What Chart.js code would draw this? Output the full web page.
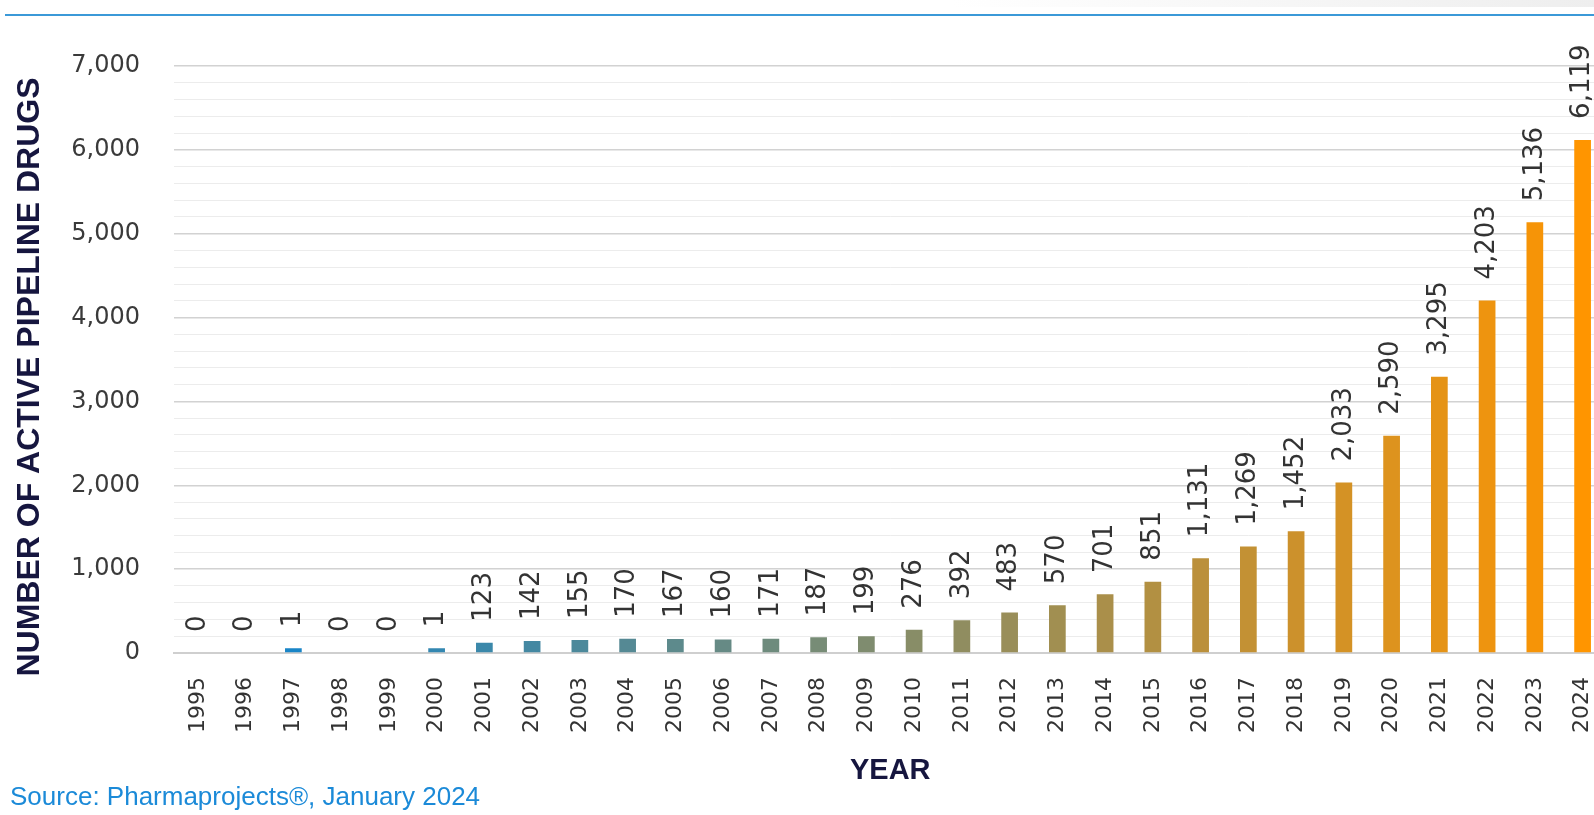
<!DOCTYPE html>
<html>
<head>
<meta charset="utf-8">
<title>Active pipeline drugs by year</title>
<script src="https://cdn.jsdelivr.net/npm/chart.js@4.4.1/dist/chart.umd.min.js"></script>
<style>
    html, body {
        margin: 0;
        padding: 0;
        background: #fff;
        width: 1594px;
        height: 815px;
        overflow: hidden;
    }
    #topshade {
        position: absolute;
        left: 950px;
        right: 0;
        top: 0;
        height: 7px;
        background: linear-gradient(to right, #fff, #eeeeee);
    }
    #topline {
        position: absolute;
        left: 5px;
        right: 0;
        top: 14px;
        height: 2px;
        background: #3b99d8;
    }
    #chart-wrap {
        position: absolute;
        left: 4px;
        top: 0;
        width: 1629px;
        height: 815px;
    }
    #source {
        position: absolute;
        left: 10px;
        top: 781px;
        font: 26px "Liberation Sans", sans-serif;
        color: #1b8ad8;
        white-space: nowrap;
    }
</style>
</head>
<body>
<div id="topshade"></div>
<div id="topline"></div>
<div id="chart-wrap"><canvas id="pipelineChart" width="1629" height="815"></canvas></div>
<div id="source">Source: Pharmaprojects®, January 2024</div>

<script>
// data
const years = ['1995', '1996', '1997', '1998', '1999', '2000', '2001', '2002', '2003', '2004',
    '2005', '2006', '2007', '2008', '2009', '2010', '2011', '2012', '2013', '2014',
    '2015', '2016', '2017', '2018', '2019', '2020', '2021', '2022', '2023', '2024'];
const drugCounts = [0, 0, 1, 0, 0, 1, 123, 142, 155, 170,
    167, 160, 171, 187, 199, 276, 392, 483, 570, 701,
    851, 1131, 1269, 1452, 2033, 2590, 3295, 4203, 5136, 6119];
const yAxisMax = 7000;
const yLabelStep = 1000;
const yGridStep = 200;
const yTitleText = 'NUMBER OF ACTIVE PIPELINE DRUGS';

/*== bar colours fade from blue (1995) to orange (2024) ==*/
function barColor(i) {
    const from = [8, 132, 214];
    const to = [255, 149, 0];
    const t = i / (years.length - 1);
    const c = from.map((v, k) => Math.round(v + (to[k] - v) * t));
    return 'rgb(' + c.join(',') + ')';
}

/*== tiny non-zero bars still get a visible stub ==*/
const minStub = {
    id: 'minStub',
    beforeDatasetsDraw(chart) {
        chart.getDatasetMeta(0).data.forEach((bar, i) => {
            if (drugCounts[i] > 0 && bar.base - bar.y < 4) {
                bar.y = bar.base - 4;
            }
        });
    }
};

/*== rotated value labels above each bar ==*/
const valueLabels = {
    id: 'valueLabels',
    afterDatasetsDraw(chart) {
        const ctx = chart.ctx;
        ctx.save();
        ctx.font = '26px "DejaVu Sans"';
        ctx.fillStyle = '#333';
        ctx.textAlign = 'left';
        ctx.textBaseline = 'middle';
        chart.getDatasetMeta(0).data.forEach((bar, i) => {
            ctx.save();
            ctx.translate(bar.x, bar.y - 21);
            ctx.rotate(-Math.PI / 2);
            ctx.fillText(drugCounts[i].toLocaleString('en-US'), 0, 0);
            ctx.restore();
        });
        ctx.restore();
    }
};

/*== y title sits a bit lower than the plot centre in the original ==*/
const yTitle = {
    id: 'yTitle',
    afterDraw(chart) {
        const ctx = chart.ctx;
        ctx.save();
        ctx.translate(26, 377);
        ctx.rotate(-Math.PI / 2);
        ctx.font = 'bold 32px "Liberation Sans"';
        ctx.fillStyle = '#16163f';
        ctx.textAlign = 'center';
        ctx.textBaseline = 'middle';
        ctx.fillText(yTitleText, 0, 0);
        ctx.restore();
    }
};

const ctx = document.getElementById('pipelineChart').getContext('2d');

new Chart(ctx, {
    type: 'bar',
    data: {
        labels: years,
        datasets: [{
            data: drugCounts,
            backgroundColor: years.map((y, i) => barColor(i)),
            borderWidth: 0,
            barPercentage: 0.35,
            categoryPercentage: 1
        }]
    },
    options: {
        responsive: false,
        animation: false,
        devicePixelRatio: 1,
        layout: {
            padding: { top: 66, right: 0, bottom: 0, left: 0 }
        },
        scales: {
            x: {
                grid: { display: false, drawTicks: false },
                border: { display: true, color: '#cfcfcf', width: 2 },
                ticks: {
                    autoSkip: false,
                    minRotation: 90,
                    maxRotation: 90,
                    padding: 24,
                    color: '#333',
                    font: { family: 'DejaVu Sans', size: 22 }
                },
                title: {
                    display: true,
                    text: 'YEAR',
                    color: '#16163f',
                    font: { family: 'Liberation Sans', size: 29, weight: 'bold' },
                    padding: { top: 0, bottom: 27 }
                },
                afterFit: scale => { scale.height = 162; }
            },
            y: {
                min: 0,
                max: yAxisMax,
                grid: {
                    drawTicks: false,
                    color: c => c.tick.value % yLabelStep === 0 ? '#d2d2d2' : '#ececec',
                    lineWidth: c => c.tick.value % yLabelStep === 0 ? 1.5 : 1
                },
                border: { display: false },
                ticks: {
                    stepSize: yGridStep,
                    autoSkip: false,
                    padding: 34,
                    color: '#3a3a3a',
                    font: { family: 'DejaVu Sans', size: 24 },
                    callback: v => v % yLabelStep === 0 ? v.toLocaleString('en-US') : ''
                },
                title: { display: false },
                afterFit: scale => { scale.width = 170; }
            }
        },
        plugins: {
            legend: { display: false },
            tooltip: { enabled: false }
        }
    },
    plugins: [minStub, valueLabels, yTitle]
});
</script>
</body>
</html>
